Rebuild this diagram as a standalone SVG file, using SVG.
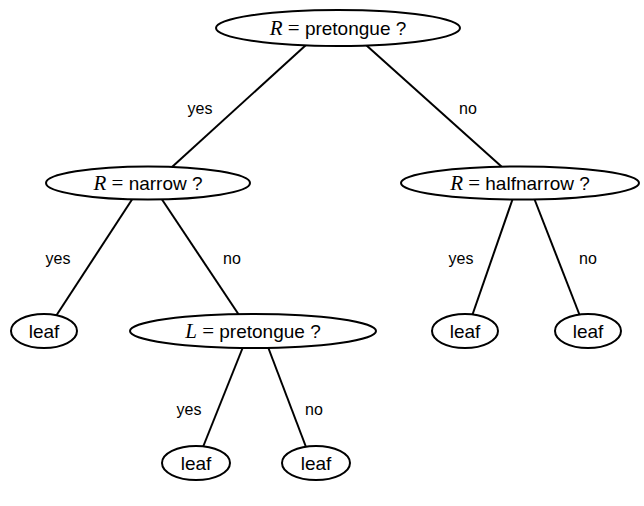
<svg xmlns="http://www.w3.org/2000/svg" width="644" height="506" viewBox="0 0 644 506">
<style>
.n{fill:#fff;stroke:#000;stroke-width:2}
.e line{stroke:#000;stroke-width:2}
.t{font-family:"Liberation Sans",Arial,sans-serif;font-size:19px;fill:#000;text-anchor:middle}
.m{font-family:"Liberation Serif","Times New Roman",serif;font-style:italic;font-size:21px}
.q{font-family:"Liberation Serif","Times New Roman",serif;font-size:21px}
.l{font-family:"Liberation Sans",Arial,sans-serif;font-size:16px;fill:#000;text-anchor:middle}
</style>
<rect width="644" height="506" fill="#fff"/>
<g id="edges" class="e">
<line x1="306" y1="45" x2="172" y2="167"/>
<line x1="366" y1="45" x2="502" y2="167"/>
<line x1="133" y1="198" x2="56" y2="316"/>
<line x1="161" y1="198" x2="239" y2="315"/>
<line x1="513" y1="198" x2="472" y2="316"/>
<line x1="534" y1="198" x2="580" y2="316"/>
<line x1="243" y1="347" x2="203" y2="447"/>
<line x1="268" y1="347" x2="306" y2="447"/>
</g>
<g id="labels">
<text class="l" x="200" y="114">yes</text>
<text class="l" x="468" y="114">no</text>
<text class="l" x="58" y="264">yes</text>
<text class="l" x="232" y="264">no</text>
<text class="l" x="461" y="264">yes</text>
<text class="l" x="588" y="264">no</text>
<text class="l" x="189" y="415">yes</text>
<text class="l" x="314" y="415">no</text>
</g>
<g id="root">
<ellipse class="n" cx="338" cy="28" rx="122" ry="18"/>
<text class="t" x="338" y="35"><tspan class="m">R</tspan><tspan class="q"> = </tspan>pretongue ?</text>
</g>
<g id="narrow">
<ellipse class="n" cx="148" cy="183" rx="102" ry="16.5"/>
<text class="t" x="148" y="190"><tspan class="m">R</tspan><tspan class="q"> = </tspan>narrow ?</text>
</g>
<g id="halfnarrow">
<ellipse class="n" cx="520" cy="183" rx="119" ry="16.5"/>
<text class="t" x="520" y="190"><tspan class="m">R</tspan><tspan class="q"> = </tspan>halfnarrow ?</text>
</g>
<g id="leaf1">
<ellipse class="n" cx="44" cy="331" rx="33" ry="17"/>
<text class="t" x="44" y="338">leaf</text>
</g>
<g id="lpretongue">
<ellipse class="n" cx="253" cy="331" rx="123" ry="17"/>
<text class="t" x="253" y="338"><tspan class="m">L</tspan><tspan class="q"> = </tspan>pretongue ?</text>
</g>
<g id="leaf2">
<ellipse class="n" cx="465" cy="331" rx="33" ry="17"/>
<text class="t" x="465" y="338">leaf</text>
</g>
<g id="leaf3">
<ellipse class="n" cx="588" cy="331" rx="33" ry="17"/>
<text class="t" x="588" y="338">leaf</text>
</g>
<g id="leaf4">
<ellipse class="n" cx="196" cy="463" rx="34" ry="17"/>
<text class="t" x="196" y="470">leaf</text>
</g>
<g id="leaf5">
<ellipse class="n" cx="316" cy="463" rx="34" ry="17"/>
<text class="t" x="316" y="470">leaf</text>
</g>
</svg>
